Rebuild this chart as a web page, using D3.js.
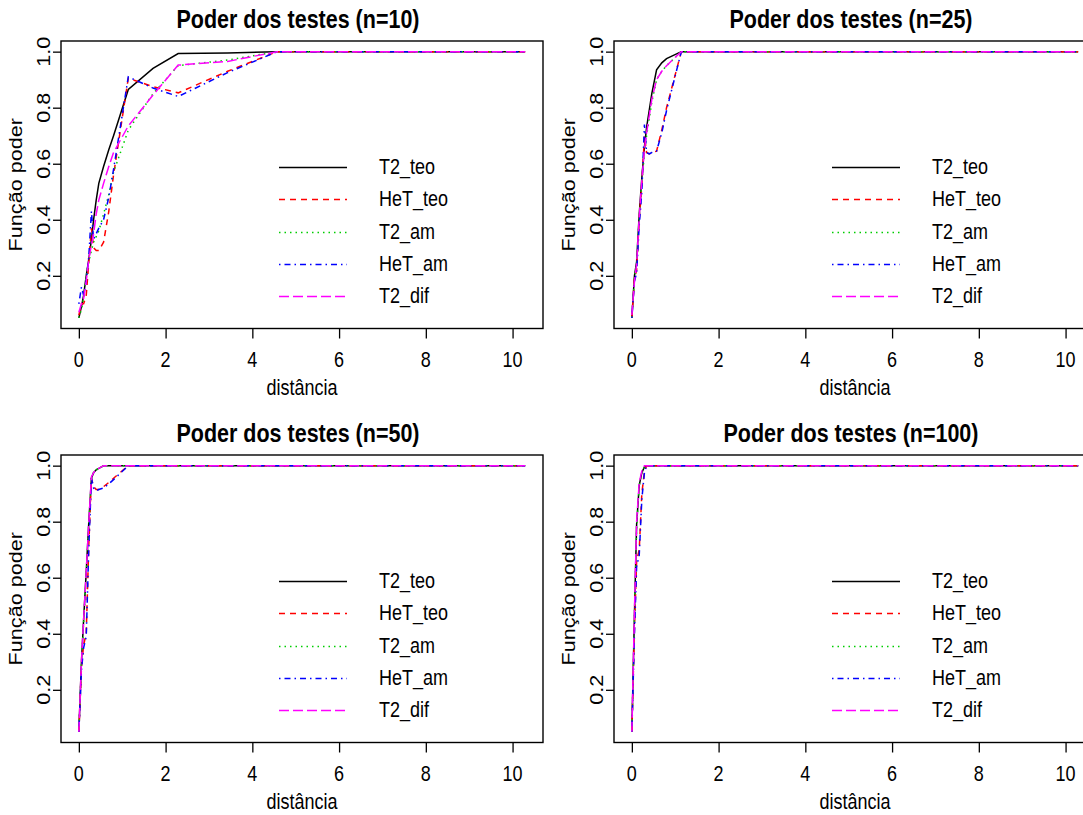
<!DOCTYPE html>
<html><head><meta charset="utf-8">
<script src="https://cdn.jsdelivr.net/npm/d3@7/dist/d3.min.js"></script>
<style>
body{margin:0;background:#fff}
svg{display:block;background:#fff}
text{font-family:"Liberation Sans",Arial,sans-serif;fill:#000}
</style>
</head><body>
<svg id="chart" width="1083" height="815"></svg>
<script>
// ---------------- data ----------------
const distancia = [0, 0.06, 0.11, 0.17, 0.23, 0.29, 0.34, 0.40, 0.46, 0.57, 0.69, 0.80, 1.14, 1.71, 2.29, 3.43, 4.57, 5.71, 6.86, 8.00, 9.14, 10.29];
const serieNomes = ["T2_teo", "HeT_teo", "T2_am", "HeT_am", "T2_dif"];
const titulos = ["Poder dos testes (n=10)", "Poder dos testes (n=25)", "Poder dos testes (n=50)", "Poder dos testes (n=100)"];
const xTicks = [0, 2, 4, 6, 8, 10];
const yTicks = [0.2, 0.4, 0.6, 0.8, 1.0];
const yTickLabels = ["0.2", "0.4", "0.6", "0.8", "1.0"];
const xLabel = "distância";
const yLabel = "Função poder";

// n = 10
const n10_T2_teo  = [0.05, 0.09, 0.13, 0.20, 0.26, 0.33, 0.40, 0.47, 0.53, 0.59, 0.65, 0.70, 0.865, 0.94, 0.993, 0.995, 1, 1, 1, 1, 1, 1];
const n10_HeT_teo = [0.06, 0.10, 0.10, 0.13, 0.25, 0.37, 0.30, 0.29, 0.29, 0.32, 0.43, 0.56, 0.905, 0.875, 0.853, 0.93, 1, 1, 1, 1, 1, 1];
const n10_T2_am   = [0.05, 0.08, 0.12, 0.20, 0.25, 0.29, 0.32, 0.34, 0.36, 0.42, 0.49, 0.57, 0.72, 0.85, 0.95, 0.97, 1, 1, 1, 1, 1, 1];
const n10_HeT_am  = [0.10, 0.16, 0.13, 0.18, 0.27, 0.43, 0.33, 0.35, 0.37, 0.40, 0.48, 0.58, 0.91, 0.87, 0.84, 0.925, 1, 1, 1, 1, 1, 1];
const n10_T2_dif  = [0.07, 0.10, 0.12, 0.18, 0.26, 0.31, 0.35, 0.42, 0.47, 0.53, 0.59, 0.64, 0.735, 0.845, 0.952, 0.965, 1, 1, 1, 1, 1, 1];
// n = 25
const n25_T2_teo  = [0.05, 0.20, 0.25, 0.42, 0.55, 0.66, 0.73, 0.79, 0.85, 0.935, 0.96, 0.975, 1, 1, 1, 1, 1, 1, 1, 1, 1, 1];
const n25_HeT_teo = [0.05, 0.19, 0.22, 0.40, 0.52, 0.70, 0.64, 0.635, 0.64, 0.645, 0.72, 0.80, 1, 1, 1, 1, 1, 1, 1, 1, 1, 1];
const n25_T2_am   = [0.05, 0.19, 0.24, 0.41, 0.53, 0.64, 0.70, 0.76, 0.82, 0.90, 0.93, 0.95, 1, 1, 1, 1, 1, 1, 1, 1, 1, 1];
const n25_HeT_am  = [0.05, 0.18, 0.21, 0.38, 0.50, 0.74, 0.64, 0.635, 0.64, 0.645, 0.71, 0.79, 1, 1, 1, 1, 1, 1, 1, 1, 1, 1];
const n25_T2_dif  = [0.06, 0.18, 0.24, 0.41, 0.54, 0.65, 0.71, 0.77, 0.83, 0.90, 0.93, 0.95, 1, 1, 1, 1, 1, 1, 1, 1, 1, 1];
// n = 50
const n50_T2_teo  = [0.05, 0.30, 0.45, 0.62, 0.80, 0.955, 0.975, 0.985, 0.99, 1, 1, 1, 1, 1, 1, 1, 1, 1, 1, 1, 1, 1];
const n50_HeT_teo = [0.05, 0.28, 0.36, 0.40, 0.72, 0.955, 0.925, 0.915, 0.915, 0.925, 0.94, 0.955, 1, 1, 1, 1, 1, 1, 1, 1, 1, 1];
const n50_T2_am   = [0.05, 0.29, 0.44, 0.61, 0.79, 0.955, 0.975, 0.985, 0.99, 1, 1, 1, 1, 1, 1, 1, 1, 1, 1, 1, 1, 1];
const n50_HeT_am  = [0.05, 0.27, 0.35, 0.39, 0.71, 0.955, 0.92, 0.91, 0.915, 0.92, 0.935, 0.95, 1, 1, 1, 1, 1, 1, 1, 1, 1, 1];
const n50_T2_dif  = [0.05, 0.30, 0.45, 0.62, 0.80, 0.96, 0.975, 0.985, 0.99, 1, 1, 1, 1, 1, 1, 1, 1, 1, 1, 1, 1, 1];
// n = 100
const n100_T2_teo  = [0.05, 0.47, 0.79, 0.93, 0.975, 0.995, 1, 1, 1, 1, 1, 1, 1, 1, 1, 1, 1, 1, 1, 1, 1, 1];
const n100_HeT_teo = [0.05, 0.42, 0.66, 0.70, 0.90, 0.98, 1, 1, 1, 1, 1, 1, 1, 1, 1, 1, 1, 1, 1, 1, 1, 1];
const n100_T2_am   = [0.05, 0.46, 0.78, 0.93, 0.975, 0.995, 1, 1, 1, 1, 1, 1, 1, 1, 1, 1, 1, 1, 1, 1, 1, 1];
const n100_HeT_am  = [0.05, 0.40, 0.64, 0.68, 0.88, 0.975, 1, 1, 1, 1, 1, 1, 1, 1, 1, 1, 1, 1, 1, 1, 1, 1];
const n100_T2_dif  = [0.05, 0.48, 0.80, 0.94, 0.98, 1, 1, 1, 1, 1, 1, 1, 1, 1, 1, 1, 1, 1, 1, 1, 1, 1];

const painelValores = [
  [n10_T2_teo, n10_HeT_teo, n10_T2_am, n10_HeT_am, n10_T2_dif],
  [n25_T2_teo, n25_HeT_teo, n25_T2_am, n25_HeT_am, n25_T2_dif],
  [n50_T2_teo, n50_HeT_teo, n50_T2_am, n50_HeT_am, n50_T2_dif],
  [n100_T2_teo, n100_HeT_teo, n100_T2_am, n100_HeT_am, n100_T2_dif]
];

// ---------------- style ----------------
const cores = ["#000000", "#FF0000", "#00CD00", "#0000FF", "#FF00FF"];
const tracos = [null, "6,5", "1.5,4", "1.5,4,6,4", "10,4"];
const K = 1.2;            // vertical stretch of the text glyphs
const FS = 18;            // axis font size
const boxLeft = [61, 614], boxTop = [41, 455];
const W = 482, H = 287.5;

const svg = d3.select("#chart");

function txt(g, x, y, s, opts) {
  const o = Object.assign({size: FS, anchor: "middle", rot: false, weight: "normal"}, opts || {});
  g.append("text")
    .attr("transform", `translate(${x},${y}) scale(1,${K})` + (o.rot ? " rotate(-90)" : ""))
    .attr("text-anchor", o.anchor)
    .attr("font-size", o.size)
    .attr("font-weight", o.weight)
    .text(s);
}

painelValores.forEach((vals, i) => {
  const L = boxLeft[i % 2], T = boxTop[Math.floor(i / 2)];
  const g = svg.append("g");
  const xe = d3.extent(distancia), ye = d3.extent(vals[0]);
  const xr = xe[1] - xe[0], yr = ye[1] - ye[0];
  const x = d3.scaleLinear().domain([xe[0] - 0.04 * xr, xe[1] + 0.04 * xr]).range([L, L + W]);
  const y = d3.scaleLinear().domain([ye[0] - 0.04 * yr, ye[1] + 0.04 * yr]).range([T + H, T]);

  // series
  const line = d3.line().x((d, j) => x(distancia[j])).y(d => y(d));
  vals.forEach((v, k) => {
    g.append("path").datum(v).attr("d", line)
      .attr("fill", "none").attr("stroke", cores[k]).attr("stroke-width", 1.5)
      .attr("stroke-dasharray", tracos[k]);
  });

  // box
  g.append("rect").attr("x", L).attr("y", T).attr("width", W).attr("height", H)
    .attr("fill", "none").attr("stroke", "#000").attr("stroke-width", 1.4);

  // x axis
  const xa = g.append("g").attr("transform", `translate(0,${T + H})`)
    .call(d3.axisBottom(x).tickValues(xTicks).tickSize(10).tickFormat(""));
  xa.select(".domain").remove();
  xa.selectAll("line").attr("stroke", "#000").attr("stroke-width", 1.3);
  xTicks.forEach(t => txt(g, x(t), T + H + 38, String(t)));

  // y axis
  const ya = g.append("g").attr("transform", `translate(${L},0)`)
    .call(d3.axisLeft(y).tickValues(yTicks).tickSize(8).tickFormat(""));
  ya.select(".domain").remove();
  ya.selectAll("line").attr("stroke", "#000").attr("stroke-width", 1.3);
  yTicks.forEach((t, j) => txt(g, L - 11, y(t), yTickLabels[j], {rot: true}));

  // labels
  txt(g, L + W / 2, T + H + 66, xLabel);
  txt(g, L - 39, T + H / 2, yLabel, {rot: true});
  txt(g, L + W / 2 - 4, T - 13, titulos[i], {size: 21.5, weight: "bold"});

  // legend
  serieNomes.forEach((nm, k) => {
    const ly = Math.round(T + 126 + k * 32.3) + 0.5;
    g.append("line").attr("x1", L + 218).attr("x2", L + 286).attr("y1", ly).attr("y2", ly)
      .attr("stroke", cores[k]).attr("stroke-width", 1.6).attr("stroke-dasharray", tracos[k]);
    txt(g, L + 318, ly + 6, nm, {anchor: "start"});
  });
});
</script>
</body></html>
